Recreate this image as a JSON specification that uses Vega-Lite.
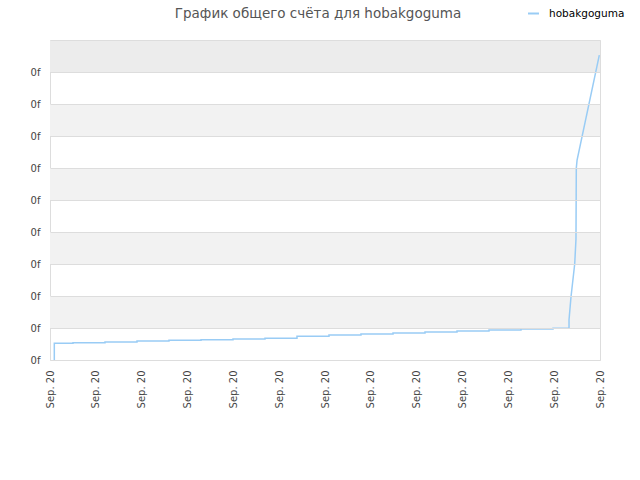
{
  "$schema": "https://vega.github.io/schema/vega-lite/v6.json",
  "width": 550,
  "height": 320,
  "autosize": {"type": "none"},
  "padding": {"left": 50, "top": 40, "right": 40, "bottom": 120},
  "background": "white",
  "config": {
    "font": "DejaVu Sans",
    "view": {"stroke": "#dddddd", "strokeWidth": 1},
    "axis": {"labelOverlap": false}
  },
  "title": {
    "text": "График общего счёта для hobakgoguma",
    "fontSize": 13.5,
    "fontWeight": "normal",
    "color": "#555555",
    "anchor": "middle",
    "dx": -7,
    "dy": 29,
    "offset": 16
  },
  "layer": [
    {
      "data": {"values": [
        {"lo": 1, "hi": 2},
        {"lo": 3, "hi": 4},
        {"lo": 5, "hi": 6},
        {"lo": 7, "hi": 8},
        {"lo": 9, "hi": 10}
      ]},
      "mark": {"type": "rect"},
      "encoding": {
        "y": {
          "field": "lo", "type": "quantitative",
          "scale": {"domain": [0, 10], "nice": false},
          "axis": {
            "title": null,
            "values": [0,1,2,3,4,5,6,7,8,9,10],
            "labelExpr": "datum.value == 10 ? '' : '0f'",
            "labelFontSize": 10,
            "labelColor": "#444444",
            "labelPadding": 10,
            "labelOverlap": false,
            "ticks": false,
            "domain": false,
            "grid": true,
            "gridColor": "#dddddd",
            "gridOpacity": 1,
            "zindex": 1
          }
        },
        "y2": {"field": "hi"},
        "color": {"condition": {"test": "datum.hi == 10", "value": "#ececec"}, "value": "#f2f2f2"}
      }
    },
    {
      "data": {"values": [
        {"t": 0.094, "v": 0, "name": "hobakgoguma"},
        {"t": 0.094, "v": 0.522, "name": "hobakgoguma"},
        {"t": 0.502, "v": 0.522, "name": "hobakgoguma"},
        {"t": 0.502, "v": 0.541, "name": "hobakgoguma"},
        {"t": 1.2, "v": 0.541, "name": "hobakgoguma"},
        {"t": 1.2, "v": 0.5625, "name": "hobakgoguma"},
        {"t": 1.898, "v": 0.5625, "name": "hobakgoguma"},
        {"t": 1.898, "v": 0.594, "name": "hobakgoguma"},
        {"t": 2.596, "v": 0.594, "name": "hobakgoguma"},
        {"t": 2.596, "v": 0.616, "name": "hobakgoguma"},
        {"t": 3.295, "v": 0.616, "name": "hobakgoguma"},
        {"t": 3.295, "v": 0.634, "name": "hobakgoguma"},
        {"t": 3.993, "v": 0.634, "name": "hobakgoguma"},
        {"t": 3.993, "v": 0.656, "name": "hobakgoguma"},
        {"t": 4.691, "v": 0.656, "name": "hobakgoguma"},
        {"t": 4.691, "v": 0.678, "name": "hobakgoguma"},
        {"t": 5.389, "v": 0.678, "name": "hobakgoguma"},
        {"t": 5.389, "v": 0.74, "name": "hobakgoguma"},
        {"t": 6.087, "v": 0.74, "name": "hobakgoguma"},
        {"t": 6.087, "v": 0.784, "name": "hobakgoguma"},
        {"t": 6.785, "v": 0.784, "name": "hobakgoguma"},
        {"t": 6.785, "v": 0.8125, "name": "hobakgoguma"},
        {"t": 7.484, "v": 0.8125, "name": "hobakgoguma"},
        {"t": 7.484, "v": 0.844, "name": "hobakgoguma"},
        {"t": 8.182, "v": 0.844, "name": "hobakgoguma"},
        {"t": 8.182, "v": 0.875, "name": "hobakgoguma"},
        {"t": 8.88, "v": 0.875, "name": "hobakgoguma"},
        {"t": 8.88, "v": 0.906, "name": "hobakgoguma"},
        {"t": 9.578, "v": 0.906, "name": "hobakgoguma"},
        {"t": 9.578, "v": 0.9375, "name": "hobakgoguma"},
        {"t": 10.276, "v": 0.9375, "name": "hobakgoguma"},
        {"t": 10.276, "v": 0.969, "name": "hobakgoguma"},
        {"t": 10.975, "v": 0.969, "name": "hobakgoguma"},
        {"t": 10.975, "v": 0.99, "name": "hobakgoguma"},
        {"t": 11.324, "v": 0.99, "name": "hobakgoguma"},
        {"t": 11.324, "v": 1.25, "name": "hobakgoguma"},
        {"t": 11.367, "v": 1.97, "name": "hobakgoguma"},
        {"t": 11.448, "v": 3.0, "name": "hobakgoguma"},
        {"t": 11.476, "v": 3.78, "name": "hobakgoguma"},
        {"t": 11.483, "v": 6.0, "name": "hobakgoguma"},
        {"t": 11.5, "v": 6.25, "name": "hobakgoguma"},
        {"t": 11.985, "v": 9.53, "name": "hobakgoguma"}
      ]},
      "mark": {"type": "line", "strokeWidth": 1.5, "interpolate": "linear"},
      "encoding": {
        "x": {
          "field": "t", "type": "quantitative",
          "scale": {"domain": [0, 12], "nice": false, "zero": false},
          "axis": {
            "title": null,
            "values": [0,1,2,3,4,5,6,7,8,9,10,11,12],
            "labelExpr": "'Sep. 20'",
            "labelAngle": -90,
            "labelFontSize": 10,
            "labelColor": "#444444",
            "labelPadding": 10,
            "labelOverlap": false,
            "ticks": false,
            "domain": false,
            "grid": false
          }
        },
        "y": {
          "field": "v", "type": "quantitative",
          "axis": {
            "title": null,
            "values": [0,1,2,3,4,5,6,7,8,9,10],
            "labelExpr": "datum.value == 10 ? '' : '0f'",
            "labelFontSize": 10,
            "labelColor": "#444444",
            "labelPadding": 10,
            "labelOverlap": false,
            "ticks": false,
            "domain": false,
            "grid": true,
            "gridColor": "#dddddd",
            "gridOpacity": 1,
            "zindex": 1
          }
        },
        "color": {
          "field": "name", "type": "nominal",
          "scale": {"domain": ["hobakgoguma"], "range": ["#99ccf5"]},
          "legend": {
            "title": null,
            "orient": "none",
            "legendX": 477,
            "legendY": -33,
            "symbolType": "stroke",
            "symbolStrokeWidth": 2,
            "symbolSize": 120,
            "labelOffset": 9,
            "labelFontSize": 10.5,
            "labelColor": "#000000"
          }
        }
      }
    }
  ]
}
